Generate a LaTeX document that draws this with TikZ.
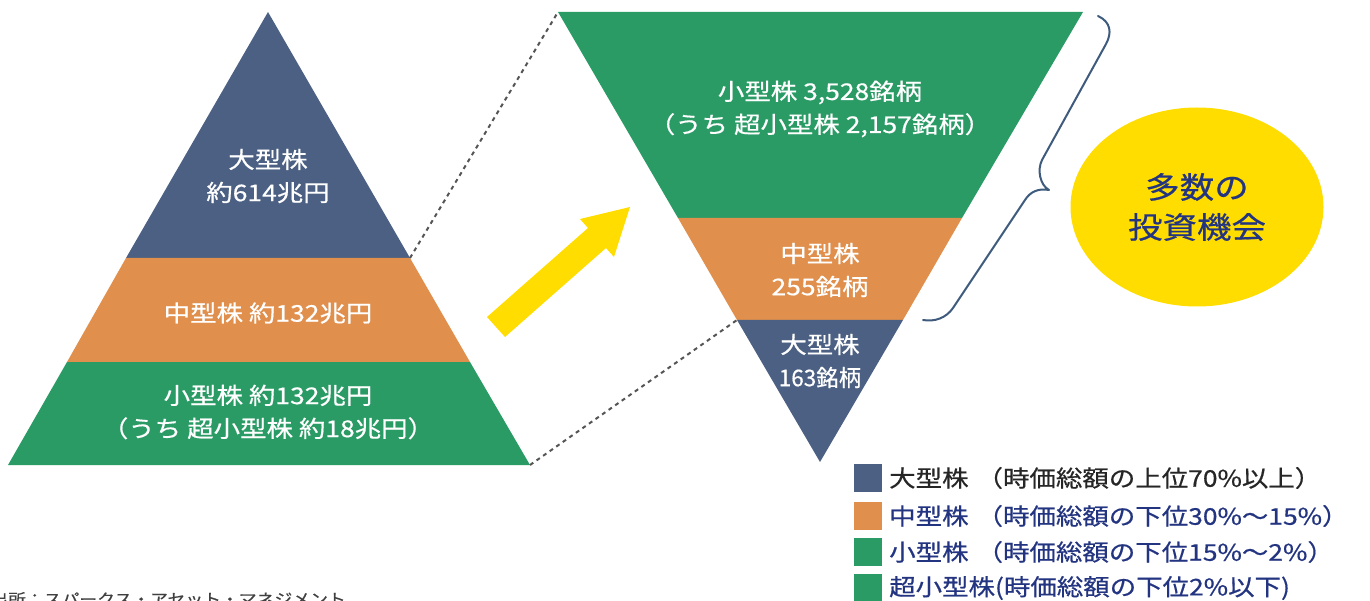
\documentclass[tikz,border=0pt]{standalone}
\usepackage{fontspec}
\setmainfont{Noto Sans CJK JP}[FakeStretch=1.15, FakeBold=0.6]
\usetikzlibrary{shapes.geometric}

\definecolor{bigblue}{RGB}{75,96,130}
\definecolor{midorange}{RGB}{224,143,76}
\definecolor{smallgreen}{RGB}{43,155,102}
\definecolor{arrowyellow}{RGB}{255,221,0}
\definecolor{bracegray}{RGB}{62,90,125}
\definecolor{navytext}{RGB}{35,52,128}
\definecolor{dashgray}{RGB}{85,85,85}

\tikzset{
	bandtext/.style={text=white, align=center, inner sep=0pt, font=\fontsize{23}{33}\selectfont},
	legendbox/.style={rectangle, minimum width=28pt, minimum height=28pt, inner sep=0pt},
	legendtext/.style={anchor=west, inner sep=0pt, text=navytext, font=\fontsize{23}{26}\selectfont},
	zoomline/.style={dashgray, line width=2pt, dash pattern=on 4pt off 4pt}
}

\begin{document}
\begin{tikzpicture}[x=1pt,y=-1pt]
		
		\useasboundingbox (0,0) rectangle (1370,601);
		
		%Left pyramid
		\coordinate (apex) at (268,12);
		\coordinate (bigL) at (126,258);
		\coordinate (bigR) at (410,258);
		\coordinate (midL) at (67,362);
		\coordinate (midR) at (470,362);
		\coordinate (baseL) at (8,465);
		\coordinate (baseR) at (530,465);
		\fill[bigblue] (apex) -- (bigR) -- (bigL) -- cycle;
		\fill[midorange] (bigL) -- (bigR) -- (midR) -- (midL) -- cycle;
		\fill[smallgreen] (midL) -- (midR) -- (baseR) -- (baseL) -- cycle;
		
		%Inverted pyramid
		\coordinate (topL) at (558,12);
		\coordinate (topR) at (1083,12);
		\coordinate (smallL) at (678,218);
		\coordinate (smallR) at (962,218);
		\coordinate (largeL) at (737,320);
		\coordinate (largeR) at (903,320);
		\coordinate (tip) at (820,462);
		\fill[smallgreen] (topL) -- (topR) -- (smallR) -- (smallL) -- cycle;
		\fill[midorange] (smallL) -- (smallR) -- (largeR) -- (largeL) -- cycle;
		\fill[bigblue] (largeL) -- (largeR) -- (tip) -- cycle;
		
		%Zoom lines
		\draw[zoomline] (bigR) -- (topL);
		\draw[zoomline] (baseR) -- (largeL);
		
		%Arrow
		\fill[arrowyellow] (487,317) -- (588,228) -- (580,219) -- (630,207) -- (614,257)
		-- (606,248) -- (505,337) -- cycle;
		
		%Brace
		\draw[bracegray, line width=2pt, line cap=round, line join=round] (1098,16)
		.. controls (1111,22) and (1112,33) .. (1106,44) -- (1042,160)
		.. controls (1037,170) and (1040,185) .. (1049,190)
		.. controls (1038,188) and (1030,192) .. (1025,200) -- (953,308)
		.. controls (946,318) and (935,322) .. (923,320);
		
		%Names
		\node (bigCap) at (268,176) [bandtext]{大型株\\約614兆円};
		\node (midCap) at (268,313) [bandtext]{中型株 約132兆円};
		\node (smallCap) at (268,412) [bandtext]{小型株 約132兆円\\（うち 超小型株 約18兆円）};
		\node (smallCount) at (820,109) [bandtext]{小型株 3,528銘柄\\（うち 超小型株 2,157銘柄）};
		\node (midCount) at (820,270) [bandtext]{中型株\\255銘柄};
		\node (bigCount) at (820,361) [bandtext]{大型株\\\scalebox{0.85}[1]{163銘柄}};
		
		%Ellipse
		\node (chance) at (1197,207) [ellipse, fill=arrowyellow, minimum width=253pt, minimum
		height=199pt, inner sep=0pt, text=navytext, align=center,
		font=\fontsize{30}{40}\selectfont]{多数の\\投資機会};
		
		%Legend
		\node (bigKey) at (868,478) [legendbox, fill=bigblue]{};
		\node (midKey) at (868,516) [legendbox, fill=midorange]{};
		\node (smallKey) at (868,552) [legendbox, fill=smallgreen]{};
		\node (tinyKey) at (868,588) [legendbox, fill=smallgreen]{};
		\node (bigDesc) at (889,478) [legendtext, text=black!85]{大型株\hspace{0.35em}（時価総額の上位70\%以上）};
		\node (midDesc) at (889,516) [legendtext]{中型株\hspace{0.35em}（時価総額の下位30\%～15\%）};
		\node (smallDesc) at (889,552) [legendtext]{小型株\hspace{0.35em}（時価総額の下位15\%～2\%）};
		\node (tinyDesc) at (889,588) [legendtext]{超小型株(時価総額の下位2\%以下)};
		
		%Source
		\node (source) at (-10,605) [anchor=base west, inner sep=0pt, text=black!75,
		font=\fontsize{15.5}{16}\selectfont]{出所：スパークス・アセット・マネジメント};
		
\end{tikzpicture}
\end{document}
